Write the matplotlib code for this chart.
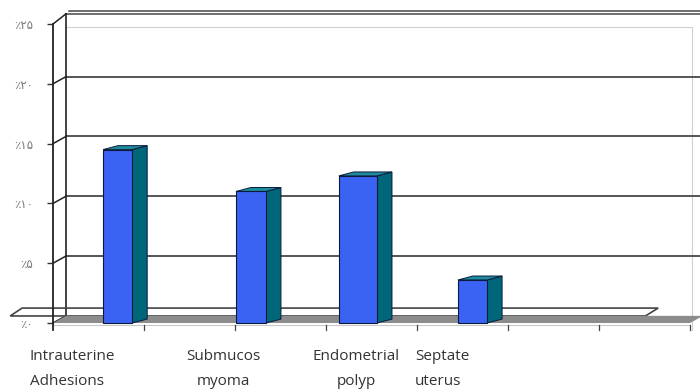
import matplotlib
matplotlib.use('Agg')
import matplotlib.pyplot as plt
from matplotlib.patches import Polygon

# data
categories = [('Intrauterine', 'Adhesions'), ('Submucos', 'myoma'),
              ('Endometrial', 'polyp'), ('Septate', 'uterus')]
values = [14.5, 11.0, 12.3, 3.6]
tick_vals = [0, 5, 10, 15, 20, 25]
tick_labels = ['٪۰', '٪۵', '٪۱۰', '٪۱۵', '٪۲۰', '٪۲۵']

# layout (x in category slots, 7 slots across the floor)
bar_left = [0.55, 2.01, 3.14, 4.45]
bar_width = [0.32, 0.33, 0.42, 0.32]
label_x = [-0.253, 1.87, 3.33, 3.98]
label_ha = ['left', 'center', 'center', 'left']
n_slots = 7
dx, dy = 0.143, 0.6        # wall depth offset
bdx, bdy = 0.165, 0.33     # bar depth offset

front_c = '#3b63f3'
side_c = '#00677a'
top_c = '#1d8d9e'
edge_c = '#0b1a3c'
grid_c = '#555555'

fig = plt.figure(figsize=(7, 3.92), dpi=100)
ax = fig.add_axes([53/700, (392-330.2)/392, 637/700, 306.2/392])
ax.set_xlim(0, n_slots)
ax.set_ylim(-0.6, 25)
for s in ['top', 'right', 'bottom']:
    ax.spines[s].set_visible(False)
ax.spines['left'].set_color('#222222')
ax.spines['left'].set_linewidth(1.3)
ax.set_xticks([])
ax.set_yticks(tick_vals)
ax.set_yticklabels(tick_labels, family=['DejaVu Sans'], fontsize=8.5, color='#7a7a7a')
ax.tick_params(axis='y', length=4.5, width=1.0, color='#333333', pad=10)

# faint plot-area border
ax.plot([dx, 7.02, 7.02], [24.75, 24.75, -0.6], color='#d0d0d0', lw=0.8, clip_on=False, zorder=0)

# back wall gridlines with left connectors
for v in tick_vals[1:-1]:
    ax.plot([dx, n_slots + dx], [v + dy, v + dy], color=grid_c, lw=1.4, clip_on=False, zorder=1)
    ax.plot([0, dx], [v, v + dy], color='#222222', lw=1.1, clip_on=False, zorder=1)
ax.plot([dx, n_slots + dx], [25.85, 25.85], color=grid_c, lw=1.2, clip_on=False, zorder=1)
ax.plot([dx + 0.03, n_slots + dx], [26.05, 26.05], color=grid_c, lw=1.2, clip_on=False, zorder=1)
ax.plot([0, dx], [25, 25.85], color='#222222', lw=1.1, clip_on=False, zorder=1)
ax.plot([0, dx], [0, dy], color='#222222', lw=1.1, clip_on=False, zorder=1)
ax.plot([dx, dx], [dy, 25.85], color='#222222', lw=1.2, clip_on=False, zorder=1)

# floor outline plate
plate = Polygon([(-0.47, 0.59), (-0.34, 1.25), (6.65, 1.25), (6.51, 0.59)], closed=True,
                fill=False, edgecolor='#444444', lw=1.2, clip_on=False, zorder=1)
ax.add_patch(plate)

# gray floor
floor = Polygon([(0, 0), (n_slots, 0), (n_slots + dx, dy), (dx, dy)], closed=True,
                facecolor='#8c8c8c', edgecolor='none', clip_on=False, zorder=2)
ax.add_patch(floor)
ax.plot([0, n_slots], [-0.15, -0.15], color='#c8c8c8', lw=0.8, clip_on=False, zorder=2)
for k in range(1, n_slots + 1):
    ax.plot([k, k], [-0.15, -0.6], color='#444444', lw=0.9, clip_on=False, zorder=2)

# 3d-looking bars
for x, w, v in zip(bar_left, bar_width, values):
    side = Polygon([(x + w, 0), (x + w + bdx, bdy), (x + w + bdx, v + bdy), (x + w, v)],
                   closed=True, facecolor=side_c, edgecolor=edge_c, lw=0.7, zorder=3)
    top = Polygon([(x, v), (x + w, v), (x + w + bdx, v + bdy), (x + bdx, v + bdy)],
                  closed=True, facecolor=top_c, edgecolor=edge_c, lw=0.7, zorder=3)
    ax.add_patch(side)
    ax.add_patch(top)
    ax.bar(x, v, width=w, align='edge', color=front_c, edgecolor=edge_c, lw=0.8, zorder=4)

# category labels, two lines each
for lx, (l1, l2), ha in zip(label_x, categories, label_ha):
    for ly, txt in ((-2.84, l1), (-4.85, l2)):
        ax.text(lx, ly, txt, ha=ha, va='center', fontsize=11,
                family=['Open Sans', 'DejaVu Sans'], color='#333333', clip_on=False)

fig.savefig('out.png', dpi=100)
